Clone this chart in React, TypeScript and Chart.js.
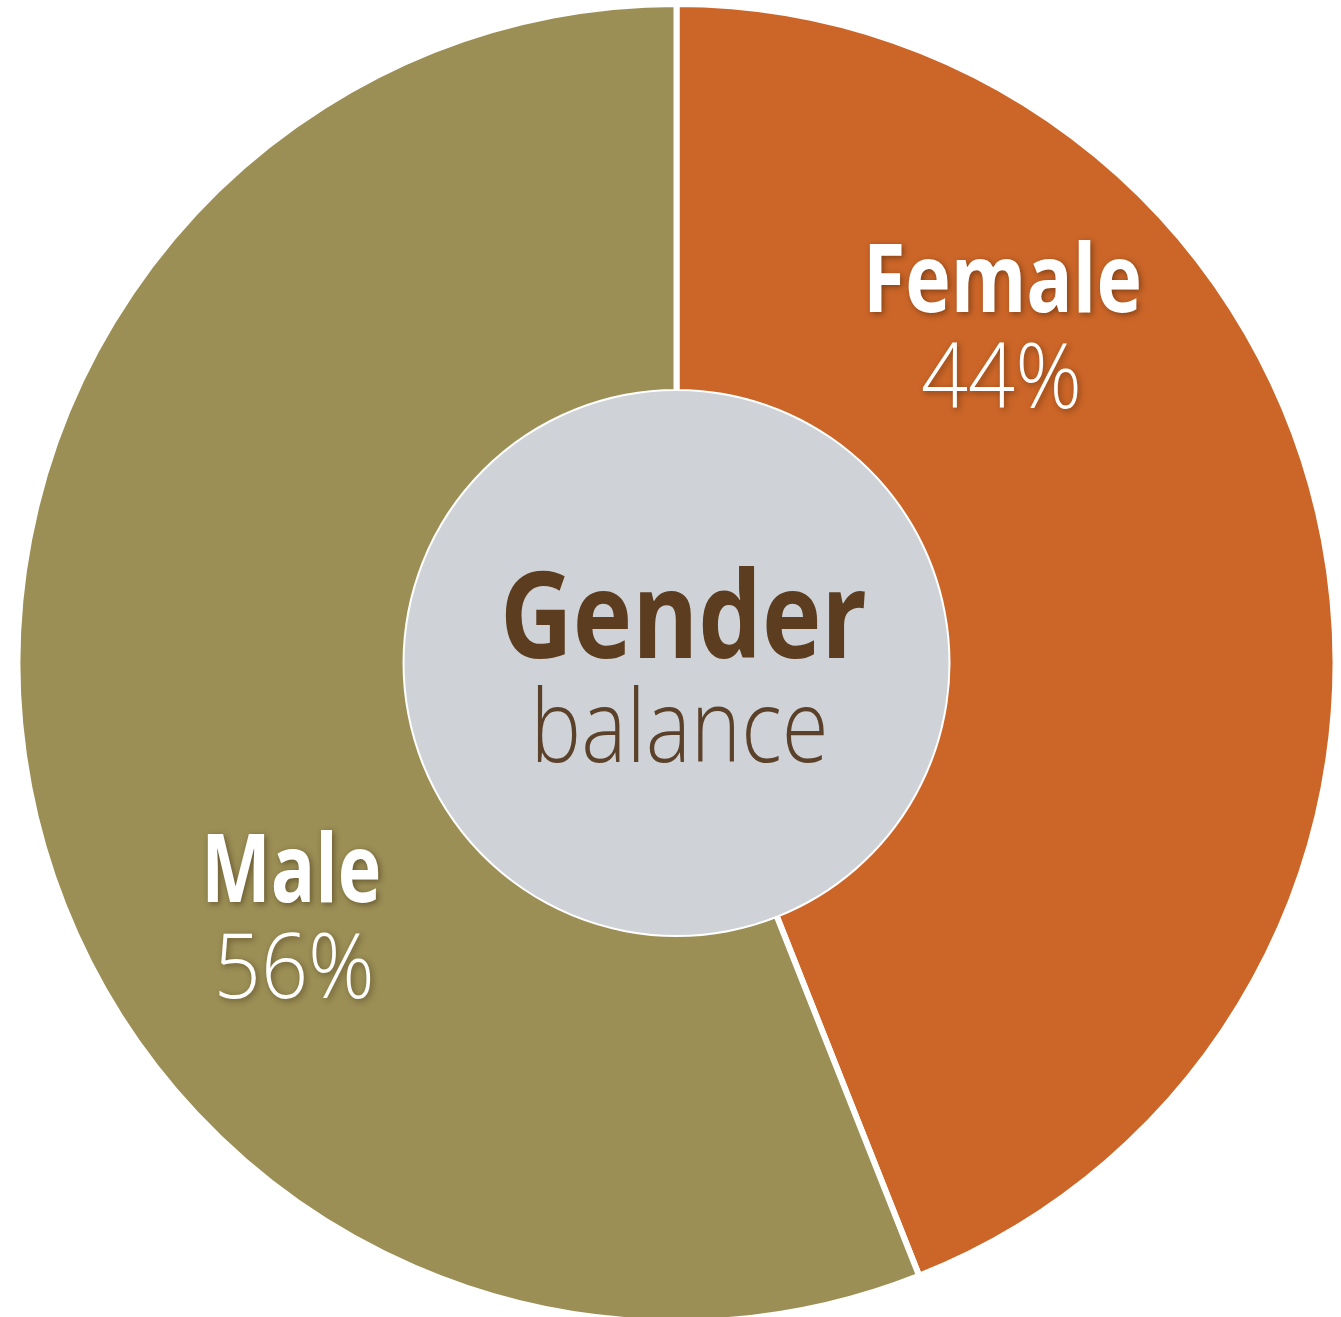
import React, { useEffect, useRef } from "react";
import { Chart, registerables } from "chart.js";

Chart.register(...registerables);

const categories = ["Female", "Male"];
const shares = [44, 56];
const colors = ["#cc6628", "#9b8f55"];
const centerTitle = "Gender";
const centerSubtitle = "balance";

// label anchors: angle (deg, clockwise from top) and distance ratio of outer radius
const labelAngles = [47.2, 233.2];
const labelDist = [0.674, 0.73];

function fitText(ctx: CanvasRenderingContext2D, text: string, cx: number, baseline: number, width: number, font: string) {
  ctx.font = font;
  const w = ctx.measureText(text).width;
  const s = width / w;
  ctx.save();
  ctx.translate(cx, baseline);
  ctx.scale(s, 1);
  ctx.textAlign = "center";
  ctx.textBaseline = "alphabetic";
  ctx.fillText(text, 0, 0);
  ctx.restore();
}

const centerPlugin = {
  id: "centerPlugin",
  afterDatasetsDraw(chart: any) {
    const ctx: CanvasRenderingContext2D = chart.ctx;
    const arc = chart.getDatasetMeta(0).data[0];
    const { x, y, innerRadius, outerRadius } = arc.getProps(["x", "y", "innerRadius", "outerRadius"], true);
    ctx.save();
    ctx.beginPath();
    ctx.arc(x, y, innerRadius + 1, 0, Math.PI * 2);
    ctx.fillStyle = "#cfd3d8";
    ctx.fill();

    ctx.fillStyle = "#5c3d20";
    fitText(ctx, centerTitle, x + 7, y - 5, 367, "bold 120px 'Open Sans'");
    ctx.fillStyle = "#5b4129";
    fitText(ctx, centerSubtitle, x + 3, y + 99, 298, "300 101px 'Open Sans'");

    // segment labels
    ctx.shadowColor = "rgba(40,20,0,0.45)";
    ctx.shadowBlur = 6;
    ctx.shadowOffsetX = 2;
    ctx.shadowOffsetY = 2;
    ctx.fillStyle = "#ffffff";
    const R = outerRadius;
    categories.forEach((cat, i) => {
      const a = (labelAngles[i] * Math.PI) / 180;
      const ax = x + Math.sin(a) * R * labelDist[i];
      const ay = y - Math.cos(a) * R * labelDist[i];
      const wName = i === 0 ? 279 : 180;
      const wPct = 161;
      fitText(ctx, cat, ax, ay - 49, wName, "bold 95px 'Open Sans'");
      fitText(ctx, shares[i] + "%", ax + (i === 0 ? -1 : 3), ay + 47, wPct, "300 90px 'Open Sans'");
    });
    ctx.restore();
  },
};

export default function App() {
  const ref = useRef<HTMLCanvasElement | null>(null);
  useEffect(() => {
    if (!ref.current) return;
    const chart = new Chart(ref.current, {
      type: "doughnut",
      data: {
        labels: categories,
        datasets: [
          {
            data: shares,
            backgroundColor: colors,
            borderColor: "#ffffff",
            borderWidth: 6,
            clip: false,
          } as any,
        ],
      },
      options: {
        responsive: false,
        animation: false,
        radius: 659,
        cutout: "41.12%",
        layout: { padding: { left: 12, top: 9, right: 0, bottom: 0 } },
        plugins: { legend: { display: false }, tooltip: { enabled: false } },
      } as any,
      plugins: [centerPlugin],
    });
    return () => chart.destroy();
  }, []);
  return (
    <div style={{ position: "absolute", left: 0, top: 0, width: 1341, height: 1317, background: "#ffffff" }}>
      <canvas ref={ref} width={1341} height={1317} style={{ display: "block", width: 1341, height: 1317 }} />
    </div>
  );
}
